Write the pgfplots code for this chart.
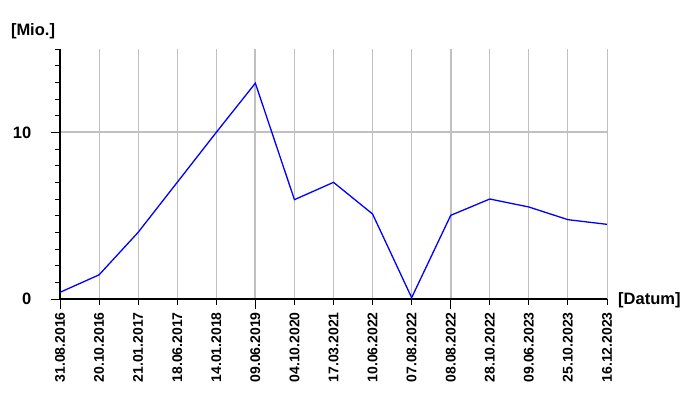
\documentclass[border=0pt]{standalone}
\usepackage{pgfplots}
\pgfplotsset{compat=1.18}
\usepackage{fontspec}
\setmainfont{Liberation Sans}
\definecolor{gridgray}{RGB}{192,192,192}
\begin{document}
\begin{tikzpicture}[x=1pt,y=1pt]
\path[use as bounding box] (0,0) rectangle (700,400);
\begin{axis}[
  at={(60pt,101pt)}, anchor=south west,
  scale only axis, width=547pt, height=250pt,
  xmin=0, xmax=14, ymin=0, ymax=15,
  axis x line=bottom, axis y line=left,
  axis line style={-, line width=1.3pt, black},
  tick align=outside,
  major tick length=9.5pt, minor tick length=5.5pt,
  every tick/.style={black, line width=1pt},
  xtick={0,5,10},
  xticklabels={},
  minor xtick={0,...,14},
  xmajorgrids, xminorgrids,
  major grid style={gridgray, line width=1.8pt},
  minor grid style={gridgray, line width=1pt},
  extra x ticks={0,...,14},
  extra x tick labels={31.08.2016,20.10.2016,21.01.2017,18.06.2017,14.01.2018,09.06.2019,04.10.2020,17.03.2021,10.06.2022,07.08.2022,08.08.2022,28.10.2022,09.06.2023,25.10.2023,16.12.2023},
  extra x tick style={major tick length=0pt, grid=none,
    xticklabel style={rotate=90, anchor=east, inner sep=0pt, xshift=-13pt, font=\fontsize{14}{16}\selectfont\bfseries}},
  ytick={0,10},
  yticklabels={0,10},
  minor ytick={1,...,9,11,12,13,14,15},
  ymajorgrids,
  yticklabel style={anchor=east, inner sep=0pt, xshift=-19pt, font=\fontsize{16.5}{18}\selectfont\bfseries},
  clip=false,
]
\addplot[blue, line width=1.3pt, mark=none] coordinates {
(0,0.4) (1,1.45) (2,4.0) (3,7.0) (4,10.0) (5,12.95) (6,5.96) (7,7.0) (8,5.1) (9,0.08) (10,5.02) (11,6.0) (12,5.52) (13,4.76) (14,4.48)
};
\end{axis}
\node[font=\fontsize{16.5}{18}\selectfont\bfseries, anchor=center] at (33,369) {[Mio.]};
\node[font=\fontsize{16.5}{18}\selectfont\bfseries, anchor=west, inner sep=0pt] at (618,100) {[Datum]};
\end{tikzpicture}
\end{document}
